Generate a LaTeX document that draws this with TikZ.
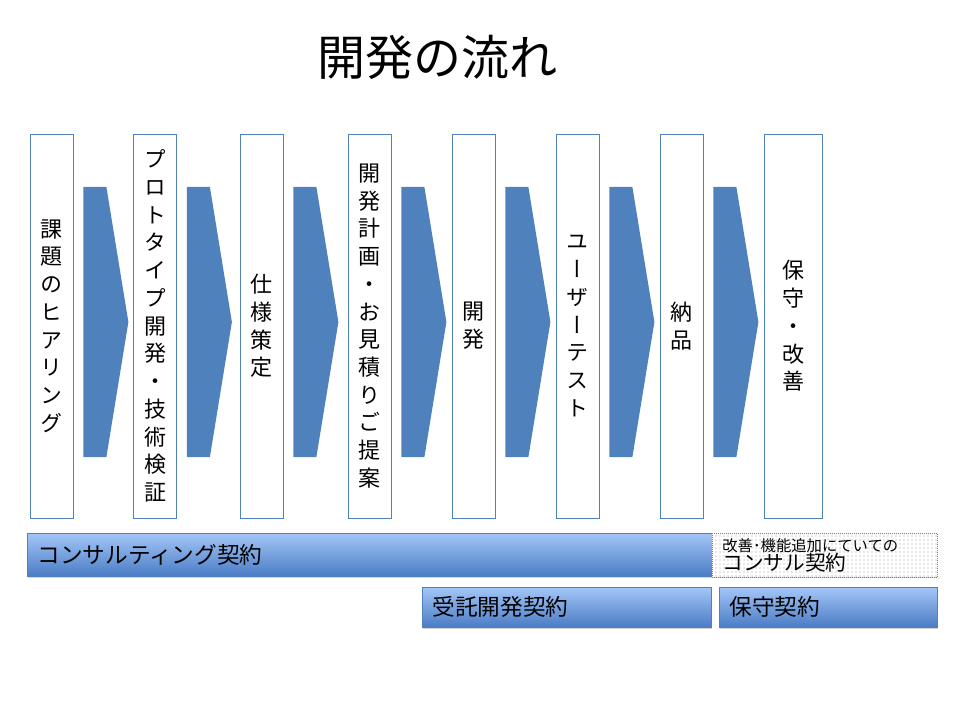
\documentclass[tikz,border=0pt]{standalone}
\usepackage{fontspec}
\setmainfont{Noto Sans CJK JP}
\newfontfamily\vertfont[RawFeature=+vert]{Noto Sans CJK JP}
\usetikzlibrary{shadows,patterns}
\definecolor{boxblue}{HTML}{4F81BD}
\definecolor{chevblue}{HTML}{4F81BD}
\definecolor{barlight}{HTML}{A3C6F7}
\definecolor{bardark}{HTML}{4A7CC4}
\begin{document}
\begin{tikzpicture}[x=0.75pt,y=-0.75pt,
  stage/.style={draw=boxblue, line width=0.6pt, fill=white, minimum width=32.25pt,
    minimum height=288pt, inner sep=0pt, align=center,
    font=\vertfont\fontsize{16.5}{20.8}\selectfont},
  chevron/.style={fill=chevblue},
  bar/.style={draw=boxblue, line width=0.5pt, top color=barlight, bottom color=bardark,
    anchor=north west, inner xsep=7.5pt, inner ysep=0pt, align=left,
    font=\fontsize{17}{20}\selectfont,
    drop shadow={shadow xshift=0.8pt, shadow yshift=-1.5pt, opacity=0.35}},
  addon/.style={draw=black!50, densely dotted, line width=0.5pt, preaction={fill=white},
    pattern=dots, pattern color=black!40, anchor=north west, inner xsep=7.5pt,
    inner ysep=0pt, align=left, minimum height=33pt, text width=153.75pt}
]
\useasboundingbox (0,0) rectangle (960,720);
%title
\node[font=\fontsize{36}{40}\selectfont] (title) at (437,57) {開発の流れ};
%steps
\node[stage] (b1) at (51.5,326) {課\\題\\の\\ヒ\\ア\\リ\\ン\\グ};
\node[stage] (b2) at (155,326) {プ\\ロ\\ト\\タ\\イ\\プ\\開\\発\\・\\技\\術\\検\\証};
\node[stage] (b3) at (261.5,326) {仕\\様\\策\\定};
\node[stage] (b4) at (369.5,326) {開\\発\\計\\画\\・\\お\\見\\積\\り\\ご\\提\\案};
\node[stage] (b5) at (473.5,326) {開\\発};
\node[stage] (b6) at (577.5,326) {ユ\\ー\\ザ\\ー\\テ\\ス\\ト};
\node[stage] (b7) at (681.5,326) {納\\品};
\node[stage, minimum width=43.5pt] (b8) at (793,326) {保\\守\\・\\改\\善};
%arrows between steps
\foreach \a in {1,...,7}
  \fill[chevron] (b\a.east) ++(10,-139) -- ++(23,0) -- ++(22,135) -- ++(-22,135) -- ++(-23,0) -- cycle;
%contracts
\node[bar, minimum height=32.25pt, text width=666.75pt] (consult) at (27,533) {コンサルティング契約};
\node[addon] (addon) at (712,533) {\fontsize{11.5}{13}\selectfont 改善･機能追加にていての\\[-1pt]
  \fontsize{15.5}{17}\selectfont コンサル契約};
\node[bar, minimum height=30pt, text width=201.75pt] (dev) at (422,587) {受託開発契約};
\node[bar, minimum height=30pt, text width=148.5pt] (keep) at (719,587) {保守契約};
\end{tikzpicture}
\end{document}
